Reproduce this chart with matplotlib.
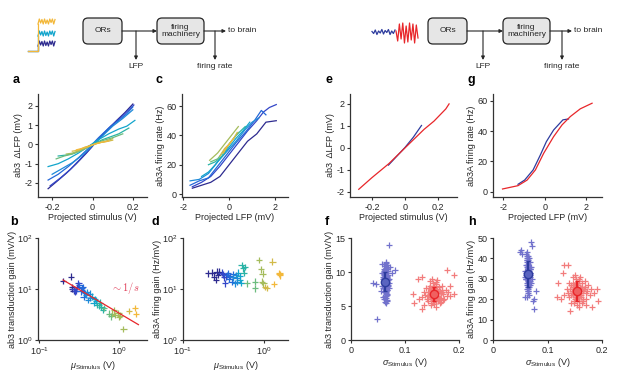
import numpy as np
import matplotlib
matplotlib.use('Agg')
import matplotlib.pyplot as plt
from matplotlib.patches import FancyBboxPatch

plt.rcParams['font.family'] = ['Liberation Sans', 'DejaVu Sans']
plt.rcParams['mathtext.fontset'] = 'custom'
plt.rcParams['mathtext.rm'] = 'Liberation Sans'
plt.rcParams['mathtext.it'] = 'Liberation Sans:italic'
plt.rcParams['font.size'] = 6.5
plt.rcParams['axes.unicode_minus'] = False

# parula-like colours, dark blue -> yellow
par = ['#2D2A8F', '#3346C8', '#2468D8', '#1E8AD8', '#12A5CC',
       '#2AB3A6', '#6CBC7E', '#A5BC5C', '#D2BA48', '#F3B83A']

######## panel a : dLFP vs projected stimulus ########
a_x = [[-0.22, -0.18, -0.13, -0.08, -0.03, 0.02, 0.07, 0.12, 0.16, 0.20],
       [-0.21, -0.16, -0.11, -0.06, -0.01, 0.04, 0.09, 0.14, 0.18, 0.205],
       [-0.22, -0.17, -0.12, -0.07, -0.02, 0.03, 0.08, 0.13, 0.17, 0.20],
       [-0.20, -0.15, -0.10, -0.05, 0.00, 0.05, 0.10, 0.15, 0.20],
       [-0.22, -0.17, -0.12, -0.07, -0.02, 0.03, 0.08, 0.13, 0.17, 0.21],
       [-0.17, -0.13, -0.09, -0.05, 0.00, 0.05, 0.09, 0.13, 0.18],
       [-0.18, -0.14, -0.10, -0.05, 0.00, 0.05, 0.10, 0.15],
       [-0.13, -0.10, -0.06, -0.02, 0.02, 0.06, 0.10],
       [-0.10, -0.07, -0.04, 0.00, 0.04, 0.07, 0.10],
       [-0.08, -0.05, -0.02, 0.01, 0.04, 0.08]]
a_y = [[-2.3, -1.95, -1.5, -1.0, -0.45, 0.15, 0.7, 1.25, 1.65, 2.1],
       [-2.15, -1.75, -1.3, -0.75, -0.2, 0.4, 0.95, 1.4, 1.8, 2.05],
       [-1.85, -1.55, -1.15, -0.7, -0.2, 0.35, 0.85, 1.25, 1.6, 1.95],
       [-1.55, -1.25, -0.95, -0.55, -0.05, 0.45, 0.95, 1.35, 1.8],
       [-1.15, -1.0, -0.75, -0.45, -0.1, 0.25, 0.55, 0.8, 0.95, 1.25],
       [-0.6, -0.55, -0.45, -0.25, 0.0, 0.25, 0.4, 0.55, 0.85],
       [-0.75, -0.6, -0.5, -0.3, -0.02, 0.2, 0.35, 0.55],
       [-0.5, -0.45, -0.3, -0.12, 0.05, 0.15, 0.3],
       [-0.35, -0.3, -0.15, -0.02, 0.1, 0.15, 0.22],
       [-0.28, -0.2, -0.1, 0.02, 0.1, 0.18]]

######## panel c : firing rate vs projected LFP ########
c_x = [[-1.6, -1.2, -0.8, -0.4, 0.0, 0.4, 0.8, 1.2, 1.6, 2.05],
       [-1.6, -1.2, -0.8, -0.4, 0.0, 0.4, 0.8, 1.2, 1.5, 1.75, 2.05],
       [-1.7, -1.3, -0.9, -0.5, -0.1, 0.3, 0.7, 1.1, 1.4, 1.6],
       [-1.7, -1.3, -0.9, -0.5, -0.1, 0.3, 0.7, 1.0, 1.3],
       [-1.2, -0.9, -0.6, -0.3, 0.0, 0.3, 0.6, 0.9],
       [-0.9, -0.6, -0.3, 0.0, 0.3, 0.7],
       [-0.8, -0.5, -0.2, 0.1, 0.4],
       [-0.85, -0.5, -0.2, 0.1, 0.4],
       [-0.4, -0.2, 0.0, 0.2, 0.35],
       [-0.25, -0.1, 0.05, 0.2]]
c_y = [[4, 6, 8, 12, 20, 28, 36, 41, 49, 50],
       [5, 8, 12, 19, 27, 35, 43, 50, 56, 59, 61],
       [6, 9, 11, 19, 27, 35, 42, 50, 57, 54],
       [9, 10, 14, 22, 29, 36, 44, 49, 52],
       [12, 15, 20, 26, 32, 38, 43, 49],
       [20, 22, 26, 34, 40, 46],
       [22, 24, 30, 36, 42],
       [23, 28, 34, 40, 46],
       [26, 31, 34, 38, 42],
       [28, 32, 35, 38]]

######## panel b : transduction gain vs mean stimulus ########
b_mu = [0.20, 0.25, 0.26, 0.27, 0.28, 0.29, 0.31, 0.32, 0.34, 0.36, 0.38, 0.41,
        0.43, 0.46, 0.52, 0.53, 0.63, 0.64, 0.80, 0.82, 0.98, 1.03, 1.13,
        1.33, 1.58, 1.63,
        0.26, 0.27, 0.30, 0.33, 0.35, 0.37, 0.39, 0.40, 0.44, 0.48, 0.50,
        0.56, 0.58, 0.60, 0.75, 0.86, 0.90, 1.00]
b_gain = [14.5, 17.5, 11.0, 9.3, 9.0, 9.3, 12.9, 11.8, 10.3, 6.9, 8.2, 6.1,
          8.1, 7.1, 5.9, 4.9, 3.9, 4.2, 2.9, 3.3, 3.4, 3.0, 1.64,
          3.7, 4.2, 3.2,
          10.2, 9.8, 11.0, 9.0, 10.8, 8.8, 7.6, 8.8, 6.6, 5.3, 6.3,
          4.8, 5.4, 4.5, 3.3, 3.8, 3.1, 2.8]
b_col = [0, 0, 0, 0, 1, 1, 1, 2, 2, 2, 3, 3,
         3, 4, 4, 5, 5, 6, 6, 7, 7, 7, 7,
         8, 9, 9,
         0, 1, 1, 2, 2, 2, 3, 3, 3, 4, 4,
         5, 5, 5, 6, 7, 7, 7]
fit_x = [0.2, 1.75]
fit_y = [15.0, 2.0]

######## panel d : firing gain vs mean stimulus ########
d_mu = [0.206, 0.24, 0.255, 0.26, 0.28, 0.31, 0.33, 0.34, 0.36, 0.37, 0.40,
        0.41, 0.44, 0.46, 0.48, 0.50, 0.53, 0.55, 0.56, 0.61, 0.77, 0.77,
        0.87, 0.92, 0.96, 0.94, 0.98, 1.03, 1.08, 1.27, 1.33, 1.55, 1.57, 1.56,
        0.23, 0.27, 0.30, 0.32, 0.35, 0.38, 0.42, 0.45, 0.47, 0.50, 0.52, 0.58]
d_gain = [20.3, 17.4, 15.2, 21.8, 22.0, 19.4, 12.9, 17.5, 20.3, 16.0, 13.9,
          19.5, 12.9, 16.8, 20.9, 15.0, 29.5, 25.5, 21.0, 12.9, 13.9, 10.3,
          37.0, 24.3, 20.0, 14.0, 12.9, 11.0, 10.5, 34.4, 12.5, 20.3, 18.5, 19.3,
          21.0, 19.0, 21.0, 17.0, 19.0, 18.0, 17.0, 19.0, 14.0, 18.0, 13.0, 27.0]
d_col = [0, 0, 0, 0, 0, 1, 1, 1, 2, 2, 2,
         2, 3, 3, 4, 4, 5, 5, 5, 6, 6, 6,
         7, 7, 7, 7, 7, 8, 8, 8, 9, 9, 9, 9,
         0, 0, 1, 1, 2, 2, 3, 3, 3, 4, 4, 5]

######## panels e and g : two stimulus statistics ########
e_blue_x = [-0.1, -0.05, 0.0, 0.05, 0.1]
e_blue_y = [-0.78, -0.38, 0.02, 0.48, 1.02]
e_red_x = [-0.28, -0.2, -0.097, 0.0, 0.115, 0.176, 0.247, 0.267]
e_red_y = [-1.88, -1.35, -0.71, 0.0, 0.84, 1.22, 1.77, 2.0]

g_blue_x = [-1.29, -0.97, -0.56, -0.21, 0.08, 0.43, 0.88, 1.15]
g_blue_y = [4.9, 7.7, 14.4, 24.3, 33.1, 40.8, 47.5, 48.1]
g_red_x = [-2.04, -1.29, -0.85, -0.45, -0.05, 0.43, 0.84, 1.24, 1.72, 2.29]
g_red_y = [1.8, 4.0, 7.7, 14.4, 25.4, 36.4, 44.2, 49.7, 54.8, 58.5]

######## panel f : transduction gain vs stimulus s.d. ########
f_blue_x = [0.063, 0.066, 0.060, 0.068, 0.064, 0.062, 0.067, 0.065, 0.061, 0.069,
            0.064, 0.066, 0.063, 0.060, 0.068, 0.065, 0.062, 0.067, 0.064, 0.066,
            0.059, 0.063, 0.070, 0.065, 0.061, 0.067, 0.064, 0.062, 0.066, 0.068,
            0.058, 0.065, 0.063, 0.069, 0.061, 0.066, 0.064, 0.060, 0.067, 0.063,
            0.071, 0.057, 0.065, 0.062, 0.068, 0.064, 0.073, 0.056, 0.066, 0.061,
            0.041, 0.047, 0.081, 0.075, 0.071, 0.049, 0.058, 0.060, 0.070, 0.067,
            0.062, 0.065, 0.064, 0.066, 0.063, 0.067, 0.061, 0.065, 0.064, 0.063,
            0.066, 0.062, 0.068, 0.064, 0.065, 0.063, 0.066, 0.061, 0.067, 0.064,
            0.062, 0.065, 0.063, 0.066, 0.064]
f_blue_y = [8.6, 9.1, 8.0, 9.6, 7.5, 10.2, 8.3, 9.9, 7.1, 8.8,
            10.6, 7.8, 9.4, 8.9, 10.8, 6.9, 9.7, 7.4, 8.2, 10.4,
            9.2, 6.5, 9.0, 11.0, 10.0, 6.6, 7.0, 8.5, 11.1, 7.9,
            8.0, 6.2, 10.9, 10.1, 9.5, 5.9, 11.3, 7.6, 9.3, 5.6,
            8.4, 9.8, 5.4, 6.0, 9.0, 11.5, 10.7, 7.2, 6.8, 10.5,
            8.4, 8.2, 10.3, 9.8, 14.0, 3.1, 11.2, 6.3, 7.7, 5.8,
            8.9, 8.2, 9.3, 8.6, 7.7, 9.0, 8.4, 9.5, 8.0, 10.3,
            7.3, 9.1, 8.1, 9.8, 7.6, 8.7, 9.4, 9.9, 10.1, 6.4,
            7.9, 10.6, 8.3, 8.8, 7.2]
f_red_x = [0.150, 0.156, 0.160, 0.148, 0.153, 0.162, 0.145, 0.158, 0.152, 0.165,
           0.142, 0.157, 0.149, 0.168, 0.155, 0.146, 0.161, 0.151, 0.159, 0.170,
           0.140, 0.154, 0.163, 0.147, 0.158, 0.172, 0.144, 0.166, 0.152, 0.137,
           0.160, 0.175, 0.149, 0.156, 0.135, 0.169, 0.143, 0.162, 0.178, 0.153,
           0.131, 0.164, 0.146, 0.180, 0.158, 0.139, 0.171, 0.150, 0.184, 0.126,
           0.177, 0.190, 0.131, 0.115, 0.117, 0.131, 0.135, 0.190, 0.183, 0.124,
           0.152, 0.157, 0.149, 0.160, 0.155, 0.147, 0.162, 0.153, 0.158, 0.150,
           0.164, 0.145, 0.156, 0.161, 0.151, 0.167, 0.148, 0.154, 0.159, 0.143,
           0.166, 0.152, 0.157, 0.169, 0.146]
f_red_y = [6.8, 7.2, 6.4, 7.5, 6.0, 7.0, 6.6, 5.7, 7.9, 6.2,
           7.1, 8.2, 5.5, 7.4, 6.9, 8.0, 5.9, 7.6, 6.3, 6.7,
           6.0, 5.3, 7.8, 6.5, 8.6, 6.1, 7.7, 5.6, 8.4, 6.6,
           8.8, 7.3, 5.1, 5.9, 7.0, 8.0, 5.8, 6.9, 6.4, 7.3,
           6.3, 5.4, 8.7, 7.1, 4.9, 7.7, 5.9, 9.0, 6.5, 6.0,
           10.3, 9.6, 9.3, 6.7, 5.4, 4.6, 5.1, 6.8, 8.0, 8.9,
           6.9, 6.5, 7.3, 7.1, 6.2, 6.8, 6.4, 7.6, 7.0, 6.1,
           7.2, 7.0, 6.6, 5.8, 7.4, 6.9, 6.3, 7.8, 7.5, 6.4,
           6.0, 5.9, 8.0, 7.0, 7.6]
f_mean_x = [0.063, 0.154]
f_mean_y = [8.6, 6.8]
f_err = [1.45, 1.05]

######## panel h : firing gain vs stimulus s.d. ########
h_blue_x = [0.063, 0.066, 0.061, 0.065, 0.064, 0.067, 0.062, 0.065, 0.060, 0.068,
            0.064, 0.066, 0.063, 0.061, 0.067, 0.065, 0.062, 0.064, 0.066, 0.063,
            0.059, 0.068, 0.065, 0.062, 0.067, 0.064, 0.061, 0.066, 0.063, 0.069,
            0.060, 0.065, 0.062, 0.067, 0.064, 0.066, 0.061, 0.063, 0.068, 0.065,
            0.058, 0.070, 0.062, 0.066, 0.064, 0.060, 0.067, 0.063, 0.071, 0.065,
            0.052, 0.054, 0.050, 0.070, 0.072, 0.075, 0.079, 0.058, 0.074, 0.076,
            0.063, 0.065, 0.064, 0.066, 0.062, 0.067, 0.064, 0.063, 0.065, 0.061,
            0.066, 0.064, 0.063, 0.068, 0.062, 0.065, 0.064, 0.066, 0.063, 0.067,
            0.061, 0.065, 0.064, 0.062, 0.066]
h_blue_y = [32, 34, 30, 36, 28, 33, 38, 26, 31, 35,
            40, 29, 37, 33, 27, 39, 25, 35, 30, 41,
            34, 31, 24, 36, 38, 29, 42, 26, 33, 28,
            37, 23, 32, 35, 41, 22, 30, 39, 33, 27,
            31, 36, 21, 40, 25, 34, 29, 43, 30, 37,
            44, 42, 43, 48, 46, 20, 24, 21, 19, 15,
            33, 31, 35, 29, 34, 32, 37, 27, 36, 32,
            38, 30, 40, 35, 28, 33, 26, 31, 39, 36,
            30, 24, 34, 37, 29]
h_red_x = [0.150, 0.156, 0.160, 0.148, 0.153, 0.162, 0.145, 0.158, 0.152, 0.165,
           0.142, 0.157, 0.149, 0.168, 0.155, 0.146, 0.161, 0.151, 0.159, 0.170,
           0.140, 0.154, 0.163, 0.147, 0.158, 0.172, 0.144, 0.166, 0.152, 0.137,
           0.160, 0.175, 0.149, 0.156, 0.135, 0.169, 0.143, 0.162, 0.178, 0.153,
           0.131, 0.164, 0.146, 0.180, 0.158, 0.139, 0.171, 0.150, 0.186, 0.125,
           0.130, 0.137, 0.120, 0.118, 0.190, 0.193, 0.142, 0.182, 0.170, 0.128,
           0.152, 0.157, 0.149, 0.160, 0.155, 0.147, 0.162, 0.153, 0.158, 0.150,
           0.164, 0.145, 0.156, 0.161, 0.151, 0.167, 0.148, 0.154, 0.159, 0.143,
           0.166, 0.152, 0.157, 0.169, 0.146]
h_red_y = [24, 26, 22, 27, 21, 25, 23, 19, 28, 20,
           25, 29, 18, 26, 24, 28, 21, 27, 22, 23,
           21, 17, 28, 22, 30, 24, 27, 19, 30, 23,
           31, 27, 19, 21, 25, 29, 18, 25, 22, 27,
           22, 18, 31, 25, 16, 28, 20, 32, 23, 20,
           37, 37, 28, 21, 25, 19, 14, 16, 17, 33,
           24, 23, 26, 25, 22, 27, 23, 25, 21, 24,
           26, 24, 27, 22, 20, 25, 23, 28, 26, 22,
           24, 21, 19, 26, 25]
h_mean_x = [0.064, 0.155]
h_mean_y = [32.3, 24.0]
h_err = [6.4, 4.7]

# stimulus cartoons in the schematics
step_wiggle = [0.0, 1.0, 0.2, 0.9, 0.0, 1.0, 0.1, 0.8, 0.0, 1.0, 0.3, 1.0, 0.0, 0.9]
lo_noise = [0.1, -0.3, 0.4, -0.5, 0.2, -0.2, 0.5, -0.4, 0.3, -0.1, 0.5, -0.5, 0.2, -0.3, 0.4]
hi_noise = [0.2, -0.8, 0.9, -0.6, 1.0, -1.0, 0.7, -0.9, 1.0, -0.7, 0.9, -1.0, 0.8, -0.5]

BLUE = '#2E3C9E'
RED = '#E8262A'
LBLUE = '#7272CC'
LRED = '#F27C7C'
TXT = '#262626'

fig = plt.figure(figsize=(6.17, 3.90), dpi=100)


def pos(l, r, t, b):
    return [l / 617, 1 - b / 390, (r - l) / 617, (b - t) / 390]


def style(ax):
    for s in ['top', 'right']:
        ax.spines[s].set_visible(False)
    for s in ['left', 'bottom']:
        ax.spines[s].set_color('#333333')
        ax.spines[s].set_linewidth(0.9)
    ax.tick_params(direction='out', length=2.5, width=0.8, colors='#333333',
                   labelsize=6.5, pad=1.5, labelcolor=TXT)
    ax.minorticks_off()


# schematic overlay in pixel coordinates
ov = fig.add_axes([0, 0, 1, 1])
ov.set_xlim(0, 617)
ov.set_ylim(390, 0)
ov.axis('off')


def arrow(x0, y0, x1, y1):
    ov.annotate('', xy=(x1, y1), xytext=(x0, y0),
                arrowprops=dict(arrowstyle='-|>', color=TXT, lw=0.8,
                                mutation_scale=5, shrinkA=0, shrinkB=0))


def schematic(x_or, x_fm, x_lfp, x_fr, x_out):
    ov.add_patch(FancyBboxPatch((x_or, 18), 39, 26, boxstyle='round,pad=0,rounding_size=5',
                                fc='#E6E6E6', ec=TXT, lw=0.9))
    ov.add_patch(FancyBboxPatch((x_fm, 18), 47, 26, boxstyle='round,pad=0,rounding_size=5',
                                fc='#E6E6E6', ec=TXT, lw=0.9))
    ov.text(x_or + 19.5, 31, 'ORs', ha='center', va='center', fontsize=6, color=TXT)
    ov.text(x_fm + 23.5, 31, 'firing\nmachinery', ha='center', va='center', fontsize=6,
            color=TXT, linespacing=1.1)
    arrow(x_or + 39, 31, x_fm, 31)
    arrow(x_lfp, 31, x_lfp, 60)
    ov.text(x_lfp, 66, 'LFP', ha='center', va='center', fontsize=6, color=TXT)
    arrow(x_fm + 47, 31, x_out - 2, 31)
    ov.text(x_out, 31, 'to brain', ha='left', va='center', fontsize=6, color=TXT)
    arrow(x_fr, 31, x_fr, 60)
    ov.text(x_fr, 66, 'firing rate', ha='center', va='center', fontsize=6, color=TXT)


schematic(83, 157, 136, 215, 228)
schematic(428, 503, 483, 562, 574)

# left cartoon: odour steps of three intensities
sx = np.linspace(38, 55, len(step_wiggle))
for base, col in [(42, par[0]), (32, par[4]), (20, par[9])]:
    ov.plot([28, 38, 38], [51, 51, base + 4], color=col, lw=0.9)
    ov.plot(sx, [base + 4 - 5 * v for v in step_wiggle], color=col, lw=0.9)

# right cartoon: low and high variance stimuli
ov.plot(np.linspace(372, 395, len(lo_noise)), [32 - 5 * v for v in lo_noise], color=BLUE, lw=0.9)
ov.plot(np.linspace(396, 418, len(hi_noise)), [33 - 10 * v for v in hi_noise], color=RED, lw=0.9)

# panel letters
for lab, x, y in [('a', 13, 80), ('c', 155, 80), ('e', 325, 80), ('g', 467, 80),
                  ('b', 10, 222), ('d', 152, 222), ('f', 325, 222), ('h', 468, 222)]:
    ov.text(x, y, lab, ha='left', va='center', fontsize=9, fontweight='bold', color='black')

# ---- a ----
ax = fig.add_axes(pos(38, 147, 94, 197))
for i in range(len(a_x)):
    ax.plot(a_x[i], a_y[i], color=par[i], lw=0.9)
ax.set_xlim(-0.27, 0.27)
ax.set_ylim(-2.73, 2.62)
ax.set_xticks([-0.2, 0, 0.2])
ax.set_xticklabels(['-0.2', '0', '0.2'])
ax.set_yticks([-2, -1, 0, 1, 2])
ax.set_xlabel('Projected stimulus (V)', fontsize=6.5, color=TXT, labelpad=1)
ax.set_ylabel('ab3  \u0394LFP (mV)', fontsize=6.5, color=TXT, labelpad=1)
style(ax)

# ---- c ----
ax = fig.add_axes(pos(182, 288, 94, 197))
for i in range(len(c_x)):
    ax.plot(c_x[i], c_y[i], color=par[i], lw=0.9)
ax.set_xlim(-2.05, 2.56)
ax.set_ylim(-2, 68.2)
ax.set_xticks([-2, 0, 2])
ax.set_yticks([0, 20, 40, 60])
ax.set_xlabel('Projected LFP (mV)', fontsize=6.5, color=TXT, labelpad=1)
ax.set_ylabel('ab3A firing rate (Hz)', fontsize=6.5, color=TXT, labelpad=1)
style(ax)

# ---- b ----
ax = fig.add_axes(pos(38, 147, 238, 340))
ax.set_xscale('log')
ax.set_yscale('log')
ax.scatter(b_mu, b_gain, marker='+', s=22, linewidths=0.9, c=[par[k] for k in b_col])
ax.plot(fit_x, fit_y, color=RED, lw=0.9)
ax.text(1.2, 10.3, r'$\sim 1/s$', color='#E0405A', fontsize=7.5, ha='center', va='center',
        math_fontfamily='cm')
ax.set_xlim(0.097, 2.24)
ax.set_ylim(1, 100)
ax.set_xticks([0.1, 1])
ax.set_yticks([1, 10, 100])
ax.set_xlabel(r'$\mu_{\mathrm{Stimulus}}$ (V)', fontsize=6.5, color=TXT, labelpad=1)
ax.set_ylabel('ab3 transduction gain (mV/V)', fontsize=6.5, color=TXT, labelpad=0)
style(ax)

# ---- d ----
ax = fig.add_axes(pos(183, 288, 238, 340))
ax.set_xscale('log')
ax.set_yscale('log')
ax.scatter(d_mu, d_gain, marker='+', s=22, linewidths=0.9, c=[par[k] for k in d_col])
ax.set_xlim(0.1, 1.98)
ax.set_ylim(1, 100)
ax.set_xticks([0.1, 1])
ax.set_yticks([1, 10, 100])
ax.set_xlabel(r'$\mu_{\mathrm{Stimulus}}$ (V)', fontsize=6.5, color=TXT, labelpad=1)
ax.set_ylabel('ab3A firing gain (Hz/mV)', fontsize=6.5, color=TXT, labelpad=0)
style(ax)

# ---- e ----
ax = fig.add_axes(pos(350, 457, 94, 197))
ax.plot(e_blue_x, e_blue_y, color=BLUE, lw=0.9)
ax.plot(e_red_x, e_red_y, color=RED, lw=0.9)
ax.set_xlim(-0.333, 0.315)
ax.set_ylim(-2.23, 2.45)
ax.set_xticks([-0.2, 0, 0.2])
ax.set_xticklabels(['-0.2', '0', '0.2'])
ax.set_yticks([-2, -1, 0, 1, 2])
ax.set_xlabel('Projected stimulus (V)', fontsize=6.5, color=TXT, labelpad=1)
ax.set_ylabel('ab3  \u0394LFP (mV)', fontsize=6.5, color=TXT, labelpad=1)
style(ax)

# ---- g ----
ax = fig.add_axes(pos(493, 602, 94, 197))
ax.plot(g_blue_x, g_blue_y, color=BLUE, lw=0.9)
ax.plot(g_red_x, g_red_y, color=RED, lw=0.9)
ax.set_xlim(-2.5, 2.77)
ax.set_ylim(-3.5, 64.6)
ax.set_xticks([-2, 0, 2])
ax.set_yticks([0, 20, 40, 60])
ax.set_xlabel('Projected LFP (mV)', fontsize=6.5, color=TXT, labelpad=1)
ax.set_ylabel('ab3A firing rate (Hz)', fontsize=6.5, color=TXT, labelpad=1)
style(ax)

# ---- f ----
ax = fig.add_axes(pos(351, 459, 238, 340))
ax.scatter(f_blue_x, f_blue_y, marker='+', s=22, linewidths=0.9, color=LBLUE)
ax.scatter(f_red_x, f_red_y, marker='+', s=22, linewidths=0.9, color=LRED)
ax.errorbar(f_mean_x[0], f_mean_y[0], yerr=f_err[0], fmt='o', color=BLUE, mfc='#5A64C0',
            ms=6, elinewidth=1.6, capsize=1.5)
ax.errorbar(f_mean_x[1], f_mean_y[1], yerr=f_err[1], fmt='o', color=RED, mfc='#F06060',
            ms=6, elinewidth=1.6, capsize=1.5)
ax.set_xlim(0, 0.2)
ax.set_ylim(0, 15)
ax.set_xticks([0, 0.1, 0.2])
ax.set_xticklabels(['0', '0.1', '0.2'])
ax.set_yticks([0, 5, 10, 15])
ax.set_xlabel(r'$\sigma_{\mathrm{Stimulus}}$ (V)', fontsize=6.5, color=TXT, labelpad=1)
ax.set_ylabel('ab3 transduction gain (mV/V)', fontsize=6.5, color=TXT, labelpad=1)
style(ax)

# ---- h ----
ax = fig.add_axes(pos(493, 602, 238, 340))
ax.scatter(h_blue_x, h_blue_y, marker='+', s=22, linewidths=0.9, color=LBLUE)
ax.scatter(h_red_x, h_red_y, marker='+', s=22, linewidths=0.9, color=LRED)
ax.errorbar(h_mean_x[0], h_mean_y[0], yerr=h_err[0], fmt='o', color=BLUE, mfc='#5A64C0',
            ms=6, elinewidth=1.6, capsize=1.5)
ax.errorbar(h_mean_x[1], h_mean_y[1], yerr=h_err[1], fmt='o', color=RED, mfc='#F06060',
            ms=6, elinewidth=1.6, capsize=1.5)
ax.set_xlim(0, 0.2)
ax.set_ylim(0, 50)
ax.set_xticks([0, 0.1, 0.2])
ax.set_xticklabels(['0', '0.1', '0.2'])
ax.set_yticks([0, 10, 20, 30, 40, 50])
ax.set_xlabel(r'$\sigma_{\mathrm{Stimulus}}$ (V)', fontsize=6.5, color=TXT, labelpad=1)
ax.set_ylabel('ab3A firing gain (Hz/mV)', fontsize=6.5, color=TXT, labelpad=1)
style(ax)

fig.savefig('out.png', dpi=100)
